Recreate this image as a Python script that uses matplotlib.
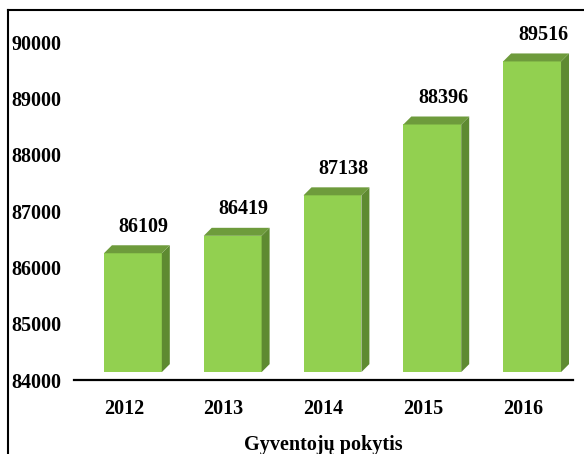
import matplotlib.pyplot as plt
from matplotlib.patches import Polygon
from matplotlib.lines import Line2D

years = ['2012', '2013', '2014', '2015', '2016']
residents = [86109, 86419, 87138, 88396, 89516]

plt.rcParams['font.family'] = ['Liberation Serif', 'DejaVu Serif']
plt.rcParams['font.weight'] = 'bold'

front_col = '#92D050'
top_col = '#6E9B3C'
side_col = '#5E8A31'
fs = 14.5

fig = plt.figure(figsize=(5.84, 4.54), dpi=100)
ax = fig.add_axes([74 / 584, 74 / 454, 499 / 584, 360 / 454])

base = 84140      # bars float a little above the axis
lift = 142        # front face raised by the 3d offset
dx, dy = 0.08, 142
width = 0.58

for i, v in enumerate(residents):
    x0 = i - 0.2
    x1 = x0 + width
    top = v + lift
    ax.bar(x0, top - base, bottom=base, width=width, align='edge',
           color=front_col, edgecolor='none', zorder=2)
    # side face
    ax.add_patch(Polygon([(x1, base), (x1 + dx, base + dy), (x1 + dx, top + dy), (x1, top)],
                         closed=True, facecolor=side_col, edgecolor='none', zorder=2))
    # top face
    ax.add_patch(Polygon([(x0, top), (x0 + dx, top + dy), (x1 + dx, top + dy), (x1, top)],
                         closed=True, facecolor=top_col, edgecolor='none', zorder=2))
    ax.annotate(str(v), xy=(i + 0.2, v), xytext=(0, 17.5), textcoords='offset points',
                ha='center', va='bottom', fontsize=fs, fontweight='bold')

ax.set_xlim(-0.5, 4.5)
ax.set_ylim(84000, 90394)
ax.set_yticks(range(84000, 90001, 1000))
ax.set_xticks(range(len(years)))
ax.set_xticklabels(years)
ax.tick_params(length=0, labelsize=fs)
ax.tick_params(axis='y', pad=9)
ax.tick_params(axis='x', pad=14)
for s in ['top', 'right', 'left']:
    ax.spines[s].set_visible(False)
ax.spines['bottom'].set_linewidth(1.6)
ax.set_xlabel('Gyventojų pokytis', fontsize=fs, fontweight='bold', labelpad=11)

# outer frame, left and top edges only
fig.add_artist(Line2D([8 / 584, 8 / 584], [0, 1 - 10 / 454], transform=fig.transFigure,
                      color='black', lw=1.5))
fig.add_artist(Line2D([8 / 584, 1], [1 - 10 / 454, 1 - 10 / 454], transform=fig.transFigure,
                      color='black', lw=1.5))

fig.savefig('out.png', dpi=100)
